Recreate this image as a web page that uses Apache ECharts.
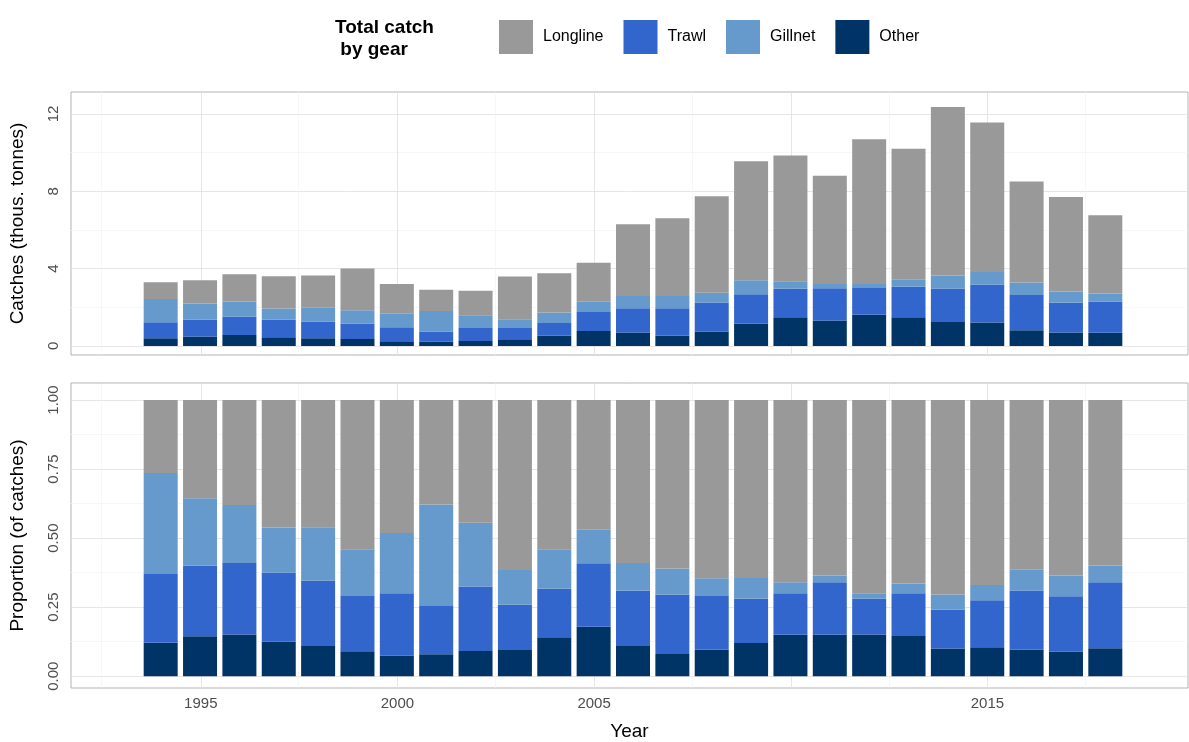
<!DOCTYPE html>
<html>
<head>
<meta charset="utf-8">
<script src="https://cdn.jsdelivr.net/npm/echarts@6/dist/echarts.min.js"></script>
<style>html,body{margin:0;padding:0;background:#fff}#main{width:1189px;height:742px}</style>
</head>
<body>
<div id="main"></div>
<script>
var years = [1994,1995,1996,1997,1998,1999,2000,2001,2002,2003,2004,2005,2006,2007,2008,2009,2010,2011,2012,2013,2014,2015,2016,2017,2018];
// thousand tonnes
var other    = [0.40,0.49,0.56,0.45,0.40,0.36,0.24,0.23,0.26,0.34,0.53,0.77,0.69,0.53,0.74,1.15,1.48,1.32,1.61,1.48,1.24,1.21,0.81,0.69,0.68];
var trawl    = [0.82,0.87,0.96,0.90,0.86,0.80,0.72,0.51,0.67,0.59,0.66,0.99,1.26,1.42,1.51,1.53,1.48,1.67,1.39,1.58,1.73,1.97,1.83,1.54,1.62];
var gillnet  = [1.21,0.83,0.78,0.59,0.71,0.68,0.70,1.07,0.66,0.45,0.54,0.52,0.63,0.63,0.50,0.72,0.39,0.22,0.21,0.36,0.68,0.64,0.64,0.58,0.41];
var longline = [0.87,1.21,1.41,1.66,1.68,2.16,1.54,1.10,1.27,2.21,2.03,2.02,3.72,4.03,5.00,6.16,6.50,5.59,7.49,6.78,8.71,7.74,5.23,4.89,4.05];

var gears = [
  {name:'Other', data:other, color:'#003366'},
  {name:'Trawl', data:trawl, color:'#3366CC'},
  {name:'Gillnet', data:gillnet, color:'#6699CC'},
  {name:'Longline', data:longline, color:'#999999'}
];
var totals = years.map(function(y,i){ return other[i]+trawl[i]+gillnet[i]+longline[i]; });

var xMajor = [1995,2000,2005,2010,2015];
var xMinor = [1992.5,1997.5,2002.5,2007.5,2012.5,2017.5];
var xLabels = [1995,2000,2005,2015];
var topMajor = [0,4,8,12], topMinor = [2,6,10];
var botMajor = [0,0.25,0.5,0.75,1], botMinor = [0.125,0.375,0.625,0.875];
var topMin = -0.47, topMax = 13.14, botMin = -0.043, botMax = 1.062;

var lab = {color:'#4d4d4d', fontSize:15, fontFamily:'Liberation Sans'};
var ttl = {color:'#000', fontSize:19, fontFamily:'Liberation Sans'};
function xAxisDef(grid, minor, showLab){
  return {type:'value', gridIndex:grid, min:1991.7, max:2020.1,
    axisLine:{show:false}, axisTick:{show:false, customValues: minor ? xMinor : xMajor},
    axisLabel: Object.assign({show:showLab, customValues: xLabels, margin:8, formatter:function(v){return String(v);}}, lab),
    splitLine:{show:true, lineStyle:{color: minor ? '#f2f2f2' : '#e0e0e0', width: minor ? 0.6 : 0.8}},
    name: showLab ? 'Year' : '', nameLocation:'middle', nameGap:34, nameTextStyle:ttl};
}
function yAxisDef(grid, min, max, ticks, minor, fmt, name){
  return {type:'value', gridIndex:grid, min:min, max:max,
    axisLine:{show:false}, axisTick:{show:false, customValues:ticks},
    axisLabel: Object.assign({show:!minor, customValues:ticks, rotate:90, formatter:fmt, margin:10}, lab),
    splitLine:{show:true, lineStyle:{color: minor ? '#f2f2f2' : '#e0e0e0', width: minor ? 0.6 : 0.8}},
    name: minor ? '' : name, nameLocation:'middle', nameGap:44, nameTextStyle:ttl};
}
function catAxis(grid){
  return {type:'category', gridIndex:grid, data:years, boundaryGap:true,
    axisLine:{show:false}, axisTick:{show:false}, axisLabel:{show:false}, splitLine:{show:false}};
}
function hiddenY(grid, min, max){
  return {type:'value', gridIndex:grid, min:min, max:max, show:false, splitLine:{show:false}};
}

var series = [];
gears.forEach(function(g){
  series.push({name:g.name, type:'bar', stack:'a', xAxisIndex:4, yAxisIndex:4, barWidth:34,
    itemStyle:{color:g.color}, data:g.data});
  series.push({name:g.name, type:'bar', stack:'b', xAxisIndex:5, yAxisIndex:5, barWidth:34,
    itemStyle:{color:g.color}, data:g.data.map(function(v,i){ return v/totals[i]; })});
});

var chart = echarts.init(document.getElementById('main'));
chart.setOption({
  animation:false,
  textStyle:{fontFamily:'Liberation Sans'},
  title:{text:'Total catch\n by gear', left:330, top:12,
    textStyle:{fontSize:19, fontWeight:'bold', color:'#000', lineHeight:22, fontFamily:'Liberation Sans'}},
  legend:{data:['Longline','Trawl','Gillnet','Other'], left:494, top:15, icon:'rect',
    itemWidth:34, itemHeight:34, itemGap:20,
    textStyle:{fontSize:16, color:'#000', fontFamily:'Liberation Sans', padding:[0,0,0,5]}},
  grid:[
    {left:70, top:92, width:1118, height:263, show:true, borderColor:'#b3b3b3', borderWidth:1, backgroundColor:'transparent'},
    {left:70, top:92, width:1118, height:263},
    {left:70, top:383, width:1118, height:305, show:true, borderColor:'#b3b3b3', borderWidth:1, backgroundColor:'transparent'},
    {left:70, top:383, width:1118, height:305},
    {left:141, top:92, width:984, height:263},
    {left:141, top:383, width:984, height:305}
  ],
  xAxis:[xAxisDef(0,false,false), xAxisDef(1,true,false), xAxisDef(2,false,true), xAxisDef(3,true,false), catAxis(4), catAxis(5)],
  yAxis:[
    yAxisDef(0,topMin,topMax,topMajor,false,function(v){return String(v);},'Catches (thous. tonnes)'),
    yAxisDef(1,topMin,topMax,topMinor,true,null,''),
    yAxisDef(2,botMin,botMax,botMajor,false,function(v){return v.toFixed(2);},'Proportion (of catches)'),
    yAxisDef(3,botMin,botMax,botMinor,true,null,''),
    hiddenY(4,topMin,topMax),
    hiddenY(5,botMin,botMax)
  ],
  series: series
});
</script>
</body>
</html>
